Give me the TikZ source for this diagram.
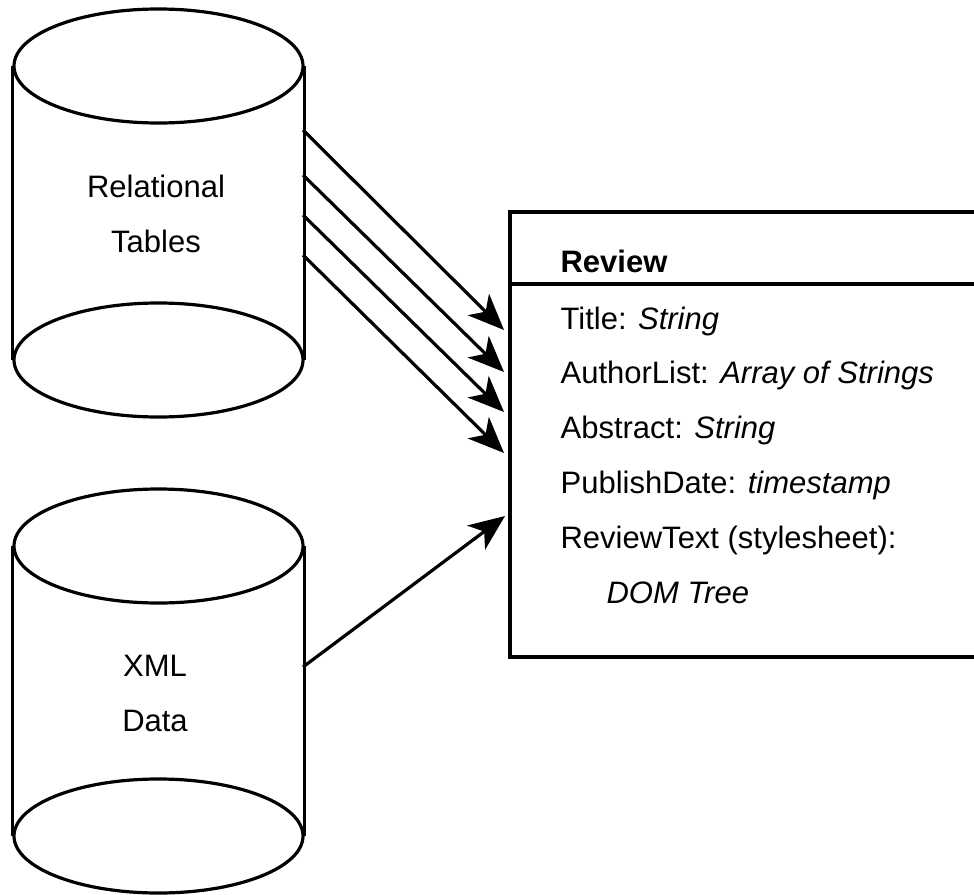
\documentclass[tikz,border=0pt]{standalone}
\usepackage{fontspec}
\setmainfont{Liberation Sans}
\usetikzlibrary{arrows.meta,shapes.geometric}

\tikzset{
    lid/.style={draw, ellipse, line width=3.2pt, inner sep=0pt,
                minimum width=289pt, minimum height=114pt},
    txt/.style={inner sep=0pt, font=\fontsize{31}{37}\selectfont},
}

\begin{document}
\begin{tikzpicture}[x=1pt, y=-1pt, line width=3.2pt]
    \useasboundingbox (0,0) rectangle (974,894);
    \clip (0,0) rectangle (974,894);

    % relational tables
    \node[lid] (reltop) at (158.5, 66) {};
    \node[lid] (relbot) at (158.5, 360) {};
    \draw (reltop.west) -- (relbot.west);
    \draw (reltop.east) -- (relbot.east);
    \node[txt, anchor=base] (rel) at (156, 197) {Relational};
    \node[txt, anchor=base] (tab) at (156, 252) {Tables};

    % xml data
    \node[lid] (xmltop) at (158.5, 546) {};
    \node[lid] (xmlbot) at (158.5, 836) {};
    \draw (xmltop.west) -- (xmlbot.west);
    \draw (xmltop.east) -- (xmlbot.east);
    \node[txt, anchor=base] (xml) at (155, 676) {XML};
    \node[txt, anchor=base] (dat) at (155, 731) {Data};

    % review class
    \coordinate (boxnw) at (510, 212);
    \coordinate (boxse) at (1010, 657);
    \draw (boxnw) rectangle (boxse);
    \draw (510, 284) -- (1010, 284);
    \node[txt, anchor=base west, font=\fontsize{31}{37}\selectfont\bfseries] (review) at (559, 272) {Review};
    \node[txt, anchor=base west] (title) at (559, 329) {Title: \textit{String}};
    \node[txt, anchor=base west] (authors) at (559, 383) {AuthorList: \textit{Array of Strings}};
    \node[txt, anchor=base west] (abstract) at (559, 438) {Abstract: \textit{String}};
    \node[txt, anchor=base west] (pubdate) at (559, 493) {PublishDate: \textit{timestamp}};
    \node[txt, anchor=base west] (revtext) at (559, 548) {ReviewText (stylesheet):};
    \node[txt, anchor=base west] (domtree) at (605, 603) {\textit{DOM Tree}};

    \coordinate (out1) at (303, 130);
    \coordinate (out2) at (303, 175);
    \coordinate (out3) at (303, 215);
    \coordinate (out4) at (303, 255);
    \coordinate (out5) at (303, 667);
    \coordinate (in1) at (504, 330);
    \coordinate (in2) at (504, 372);
    \coordinate (in3) at (504, 412);
    \coordinate (in4) at (504, 453);
    \coordinate (in5) at (505, 516);

    \begin{scope}[every path/.style={-{Stealth[length=36pt, width=30pt, inset=10pt]}}]
       \draw (out1) -- (in1);
       \draw (out2) -- (in2);
       \draw (out3) -- (in3);
       \draw (out4) -- (in4);
       \draw (out5) -- (in5);
    \end{scope}
\end{tikzpicture}
\end{document}
